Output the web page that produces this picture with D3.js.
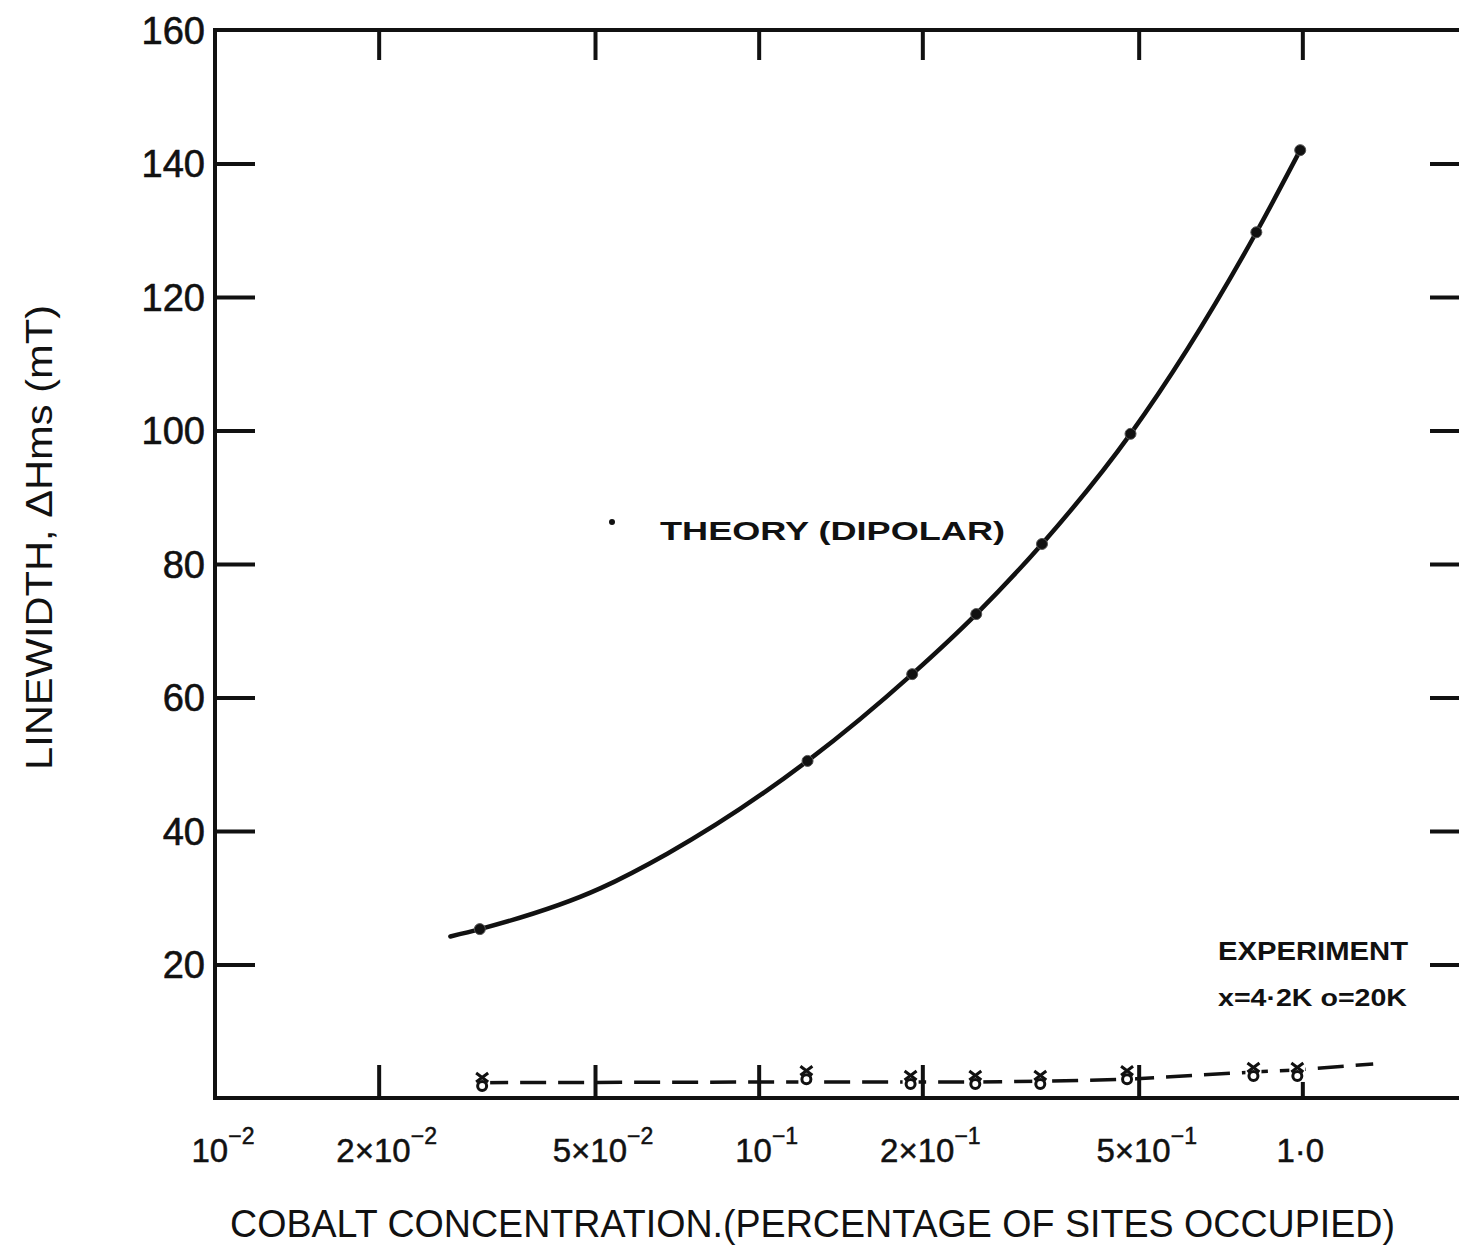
<!DOCTYPE html>
<html><head><meta charset="utf-8">
<script src="https://cdn.jsdelivr.net/npm/d3@7/dist/d3.min.js"></script>
<style>
html,body{margin:0;padding:0;background:#fff;}
svg{display:block;}
text{font-family:"Liberation Sans","Arial",sans-serif;fill:#111;}
</style></head>
<body>
<svg id="c" width="1459" height="1251"></svg>
<script>
// ---- data ----
const theoryCurveConc = [0.0271, 0.0307, 0.0511, 0.0679, 0.123, 0.1916, 0.2513, 0.332, 0.483, 0.823, 0.991];
const theoryCurveWidth = [24.2, 25.3, 31.4, 36.6, 50.5, 63.5, 72.5, 83.0, 99.5, 129.7, 142.0];
const theoryPointConc = [0.0307, 0.123, 0.1916, 0.2513, 0.332, 0.483, 0.823, 0.991];
const theoryPointWidth = [25.3, 50.5, 63.5, 72.5, 83.0, 99.5, 129.7, 142.0];
const expConc = [0.0310, 0.1224, 0.1903, 0.2503, 0.3296, 0.476, 0.813, 0.979];
const expWidth = [2.4, 3.4, 2.7, 2.7, 2.7, 3.4, 3.9, 3.9];
const expLineConc = [0.0310, 0.1224, 0.1903, 0.2503, 0.3296, 0.476, 0.813, 0.979, 1.35];
const expLineWidth = [2.3, 2.4, 2.4, 2.4, 2.5, 2.8, 3.9, 4.2, 5.1];
const yTicks = [20, 40, 60, 80, 100, 120, 140];
const yLabelTicks = [20, 40, 60, 80, 100, 120, 140, 160];
const xTicks = [0.02, 0.05, 0.1, 0.2, 0.5, 1.0];
const xLabelVals = [0.01, 0.02, 0.05, 0.1, 0.2, 0.5, 1.0];
const xLabelBase = ["10", "2×10", "5×10", "10", "2×10", "5×10", "1·0"];
const xLabelExp = ["−2", "−2", "−2", "−1", "−1", "−1", ""];

const svg = d3.select("#c");
const x = d3.scaleLog().domain([0.01, 2]).range([215, 1466]);
const y = d3.scaleLinear().domain([0, 160]).range([1098, 30]);
const INK = "#111";

// frame
svg.append("rect").attr("x", x(0.01)).attr("y", y(160))
  .attr("width", x(2) - x(0.01)).attr("height", y(0) - y(160))
  .attr("fill", "none").attr("stroke", INK).attr("stroke-width", 4);

function styleAxis(g) {
  g.select(".domain").remove();
  g.selectAll(".tick line").attr("stroke", INK).attr("stroke-width", 4);
}

// left axis
svg.append("g").attr("transform", `translate(${x(0.01)},0)`)
  .call(d3.axisLeft(y).tickValues(yTicks).tickSizeInner(-40).tickSizeOuter(0).tickFormat(""))
  .call(styleAxis);
svg.append("g").selectAll("text").data(yLabelTicks).join("text")
  .attr("x", 205).attr("y", d => y(d)).attr("dy", "0.36em")
  .attr("text-anchor", "end").attr("font-size", 38).attr("stroke", INK).attr("stroke-width", 0.6)
  .text(d => d);

// right axis
svg.append("g").attr("transform", `translate(${x(2)},0)`)
  .call(d3.axisRight(y).tickValues(yTicks).tickSizeInner(-36).tickSizeOuter(0).tickFormat(""))
  .call(styleAxis);

// top axis
svg.append("g").attr("transform", `translate(0,${y(160)})`)
  .call(d3.axisTop(x).tickValues(xTicks).tickSizeInner(-30).tickSizeOuter(0).tickFormat(""))
  .call(styleAxis);

// bottom axis
svg.append("g").attr("transform", `translate(0,${y(0)})`)
  .call(d3.axisBottom(x).tickValues(xTicks).tickSizeInner(-33).tickSizeOuter(0).tickFormat(""))
  .call(styleAxis);

// x tick labels with superscripts
const xl = svg.append("g").selectAll("text").data(xLabelVals).join("text")
  .attr("x", (d, i) => x(d) + (xLabelExp[i] ? 8 : -2)).attr("y", 1162)
  .attr("text-anchor", "middle").attr("font-size", 33)
  .attr("stroke", INK).attr("stroke-width", 0.5);
xl.append("tspan").text((d, i) => xLabelBase[i]);
xl.append("tspan").attr("dy", -18).attr("font-size", 23).text((d, i) => xLabelExp[i]);

// theory curve
const line = d3.line().x(d => x(d[0])).y(d => y(d[1])).curve(d3.curveMonotoneX);
svg.append("path").datum(theoryCurveConc.map((c, i) => [c, theoryCurveWidth[i]]))
  .attr("d", line).attr("fill", "none").attr("stroke", INK).attr("stroke-width", 4.5)
  .attr("stroke-linecap", "round");
svg.append("g").selectAll("circle").data(theoryPointConc).join("circle")
  .attr("cx", d => x(d)).attr("cy", (d, i) => y(theoryPointWidth[i])).attr("r", 5.5)
  .attr("fill", INK).attr("stroke", "#555").attr("stroke-width", 1);

// experiment dashed line
const eline = d3.line().x(d => x(d[0])).y(d => y(d[1]));
svg.append("path").datum(expLineConc.map((c, i) => [c, expLineWidth[i]]))
  .attr("d", eline).attr("fill", "none").attr("stroke", INK).attr("stroke-width", 3.5)
  .attr("stroke-dasharray", "26 12");

// experiment markers (x = 4.2K over o = 20K)
const em = svg.append("g").selectAll("g").data(expConc).join("g")
  .attr("transform", (d, i) => `translate(${x(d)},${y(expWidth[i])})`);
em.append("rect").attr("x", -8).attr("y", -10).attr("width", 16).attr("height", 20).attr("fill", "#fff");
em.append("path").attr("d", "M-6,-9L6,0M6,-9L-6,0").attr("stroke", INK).attr("stroke-width", 3).attr("fill", "none");
em.append("circle").attr("cx", 0).attr("cy", 4).attr("r", 4.5).attr("fill", "none")
  .attr("stroke", INK).attr("stroke-width", 3);

// annotations
svg.append("circle").attr("cx", 612).attr("cy", 522).attr("r", 3).attr("fill", INK);
svg.append("text").attr("x", 660).attr("y", 540).attr("font-size", 26).attr("font-weight", "bold")
  .attr("textLength", 345).attr("lengthAdjust", "spacingAndGlyphs").text("THEORY (DIPOLAR)");
svg.append("text").attr("x", 1218).attr("y", 960).attr("font-size", 26).attr("font-weight", "bold")
  .attr("textLength", 190).attr("lengthAdjust", "spacingAndGlyphs").text("EXPERIMENT");
svg.append("text").attr("x", 1218).attr("y", 1006).attr("font-size", 24).attr("font-weight", "bold")
  .attr("textLength", 189).attr("lengthAdjust", "spacingAndGlyphs").text("x=4·2K  o=20K");

// axis titles
svg.append("text").attr("x", 230).attr("y", 1237).attr("font-size", 38)
  .attr("textLength", 1165).attr("lengthAdjust", "spacingAndGlyphs")
  .text("COBALT  CONCENTRATION.(PERCENTAGE OF SITES OCCUPIED)");
svg.append("text").attr("transform", "translate(52,770) rotate(-90)").attr("font-size", 36)
  .attr("textLength", 465).attr("lengthAdjust", "spacingAndGlyphs")
  .text("LINEWIDTH, ΔHms (mT)");
</script>
</body></html>
